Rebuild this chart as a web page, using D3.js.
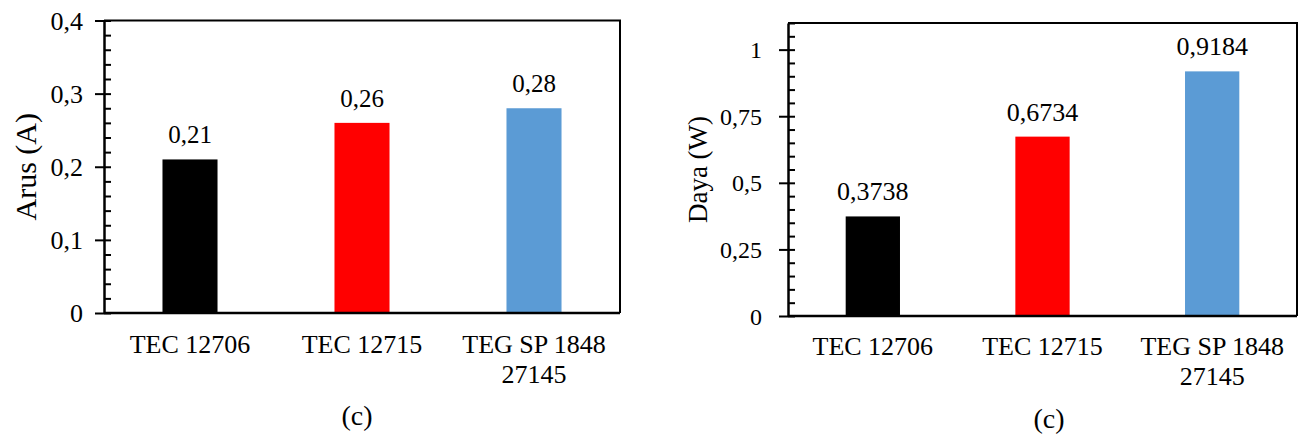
<!DOCTYPE html>
<html>
<head>
  <meta charset="utf-8">
  <title>Arus dan Daya</title>
  <script src="https://cdn.jsdelivr.net/npm/d3@7/dist/d3.min.js"></script>
  <style>
    body { margin: 0; background: #fff; }
  </style>
</head>
<body>
  <svg width="1305" height="436" id="mainsvg"></svg>
  <script>
    // data
    const categories = [["TEC 12706"], ["TEC 12715"], ["TEG SP 1848", "27145"]];
    const barColors = ["#000000", "#ff0000", "#5b9bd5"];
    const arus = [0.21, 0.26, 0.28];
    const arusLabels = ["0,21", "0,26", "0,28"];
    const daya = [0.3738, 0.6734, 0.9184];
    const dayaLabels = ["0,3738", "0,6734", "0,9184"];
    const arusTicks = [0, 0.1, 0.2, 0.3, 0.4];
    const dayaTicks = [0, 0.25, 0.5, 0.75, 1];

    const FONT = "'Liberation Serif', 'Times New Roman', serif";
    const svg = d3.select('svg');
    const locale = d3.formatLocale({ decimal: ",", thousands: ".", grouping: [3], currency: ["", ""] });
    const fmt = v => locale.format("~g")(v);

    // one bar chart panel
    const drawPanel = function (cfg) {
      const g = svg.append('g');
      const x = d3.scaleBand()
        .domain(d3.range(cfg.values.length))
        .range([cfg.left, cfg.right])
        .paddingInner(0.68)
        .paddingOuter(0.34);
      const y = d3.scaleLinear()
        .domain([0, cfg.max])
        .range([cfg.bottom, cfg.top]);

      // bars
      g.selectAll('.bar')
        .data(cfg.values)
        .join('rect')
        .attr('class', 'bar')
        .attr('x', (d, i) => x(i))
        .attr('width', x.bandwidth())
        .attr('y', d => y(d))
        .attr('height', d => y(0) - y(d))
        .attr('fill', (d, i) => barColors[i]);

      // value labels
      g.selectAll('.val')
        .data(cfg.values)
        .join('text')
        .attr('class', 'val')
        .attr('x', (d, i) => x(i) + x.bandwidth() / 2)
        .attr('y', d => y(d) - 16)
        .attr('text-anchor', 'middle')
        .attr('font-family', FONT)
        .attr('font-size', cfg.valueSize)
        .text((d, i) => cfg.valueLabels[i]);

      // frame top/right
      g.append('path')
        .attr('d', `M${cfg.left},${y(cfg.max)}H${cfg.right}V${y(0)}`)
        .attr('fill', 'none').attr('stroke', '#000').attr('stroke-width', 2);

      // minor ticks inside
      const minor = d3.range(0, cfg.max + 1e-9, cfg.minor);
      const inner = g.append('g')
        .attr('transform', `translate(${cfg.left},0)`)
        .call(d3.axisRight(y).tickValues(minor).tickSize(7).tickFormat(''));
      inner.select('.domain').remove();
      inner.selectAll('line').attr('stroke-width', 2);

      // major ticks outside with labels
      const ax = g.append('g')
        .attr('transform', `translate(${cfg.left},0)`)
        .call(d3.axisLeft(y).tickValues(cfg.ticks).tickSize(9).tickSizeOuter(0).tickPadding(cfg.tickPad).tickFormat(fmt));
      ax.attr('font-family', FONT).attr('font-size', cfg.tickSize);
      ax.select('.domain').attr('stroke-width', 2.5);
      ax.selectAll('line').attr('stroke-width', 2);
      ax.selectAll('text').attr('dy', '0.34em').attr('fill', '#000');

      // x axis line
      g.append('line')
        .attr('x1', cfg.left).attr('x2', cfg.right)
        .attr('y1', y(0)).attr('y2', y(0))
        .attr('stroke', '#000').attr('stroke-width', 2.5);

      // category labels
      const cat = g.selectAll('.cat')
        .data(categories)
        .join('text')
        .attr('class', 'cat')
        .attr('text-anchor', 'middle')
        .attr('y', cfg.catY)
        .attr('font-family', FONT)
        .attr('font-size', 26);
      cat.selectAll('tspan')
        .data((d, i) => d.map(t => ({ t, i })))
        .join('tspan')
        .attr('x', d => x(d.i) + x.bandwidth() / 2)
        .attr('dy', (d, j) => j === 0 ? 0 : 30)
        .text(d => d.t);

      // y title
      g.append('text')
        .attr('transform', `translate(${cfg.titleX},${(cfg.top + cfg.bottom) / 2}) rotate(-90)`)
        .attr('text-anchor', 'middle')
        .attr('font-family', FONT)
        .attr('font-size', cfg.titleSize)
        .text(cfg.title);

      // caption
      g.append('text')
        .attr('x', cfg.capX)
        .attr('y', cfg.capY)
        .attr('text-anchor', 'middle')
        .attr('font-family', FONT)
        .attr('font-size', 28)
        .text('(c)');
    };

    drawPanel({
      values: arus, valueLabels: arusLabels, ticks: arusTicks,
      max: 0.4, minor: 0.02,
      left: 104, right: 620, top: 20.5, bottom: 313,
      valueSize: 25, tickSize: 26, tickPad: 12,
      catY: 353, title: 'Arus (A)', titleSize: 30, titleX: 36,
      capX: 357, capY: 425
    });

    drawPanel({
      values: daya, valueLabels: dayaLabels, ticks: dayaTicks,
      max: 1.1, minor: 0.05,
      left: 788, right: 1297, top: 23, bottom: 316,
      valueSize: 26, tickSize: 24, tickPad: 17,
      catY: 355, title: 'Daya (W)', titleSize: 27, titleX: 707,
      capX: 1049, capY: 428
    });
  </script>
</body>
</html>
